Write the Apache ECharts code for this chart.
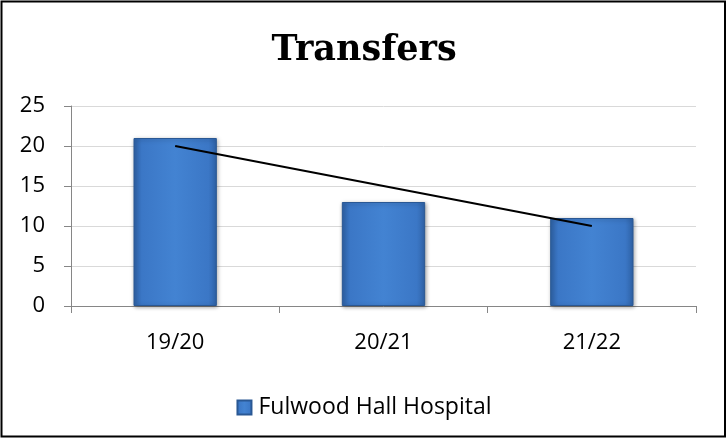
<!DOCTYPE html>
<html><head><meta charset="utf-8">
<script src="https://cdn.jsdelivr.net/npm/echarts@6/dist/echarts.min.js"></script>
<style>html,body{margin:0;padding:0;background:#fff;}#c{width:728px;height:439px;}</style>
</head><body><div id="c"></div>
<script>
const categories = ['19/20', '20/21', '21/22'];
const transfers = [21, 13, 11];
const trend = [20, 15, 10];
const seriesName = 'Fulwood Hall Hospital';
const chart = echarts.init(document.getElementById('c'));
const barGrad = new echarts.graphic.LinearGradient(0, 0, 1, 0, [
  {offset: 0, color: '#2f63a8'},
  {offset: 0.1, color: '#3b77c6'},
  {offset: 0.5, color: '#4383d2'},
  {offset: 0.9, color: '#3b77c6'},
  {offset: 1, color: '#2f63a8'}
]);
chart.setOption({
  animation: false,
  title: {text: 'Transfers', left: 'center', top: 28,
    textStyle: {fontFamily: 'DejaVu Serif', fontWeight: 'bold', fontSize: 35, color: '#000'}},
  graphic: [{type: 'rect', shape: {x: 1.5, y: 1.5, width: 723.5, height: 435},
    style: {fill: 'none', stroke: '#000', lineWidth: 2}, silent: true}],
  grid: {left: 71, right: 32, top: 106, bottom: 133, containLabel: false},
  legend: {data: [seriesName], top: 391, left: 'center', itemWidth: 14, itemHeight: 14,
    icon: 'rect', itemGap: 5,
    textStyle: {fontFamily: 'Open Sans', fontSize: 23, color: '#000', padding: [0,0,0,2]}},
  xAxis: {type: 'category', data: categories,
    axisLine: {lineStyle: {color: '#868686', width: 1}},
    axisTick: {show: true, alignWithLabel: false, length: 7, lineStyle: {color: '#868686'}},
    axisLabel: {fontFamily: 'Open Sans', fontSize: 22, color: '#000', margin: 26}},
  yAxis: {type: 'value', min: 0, max: 25, interval: 5,
    axisLine: {show: true, lineStyle: {color: '#868686', width: 1}},
    axisTick: {show: true, length: 7, lineStyle: {color: '#868686'}},
    splitLine: {lineStyle: {color: '#d9d9d9', width: 1}},
    axisLabel: {fontFamily: 'Open Sans', fontSize: 22, color: '#000', margin: 26}},
  series: [
    {name: seriesName, type: 'bar', data: transfers, barWidth: '40%',
      itemStyle: {color: barGrad, borderColor: '#2a5894', borderWidth: 1,
        shadowColor: 'rgba(0,0,0,0.35)', shadowBlur: 4, shadowOffsetX: 1, shadowOffsetY: 1}},
    {name: 'trend', type: 'line', data: trend, symbol: 'none', z: 5,
      lineStyle: {color: '#000', width: 2}, tooltip: {show: false}}
  ]
});
</script></body></html>
